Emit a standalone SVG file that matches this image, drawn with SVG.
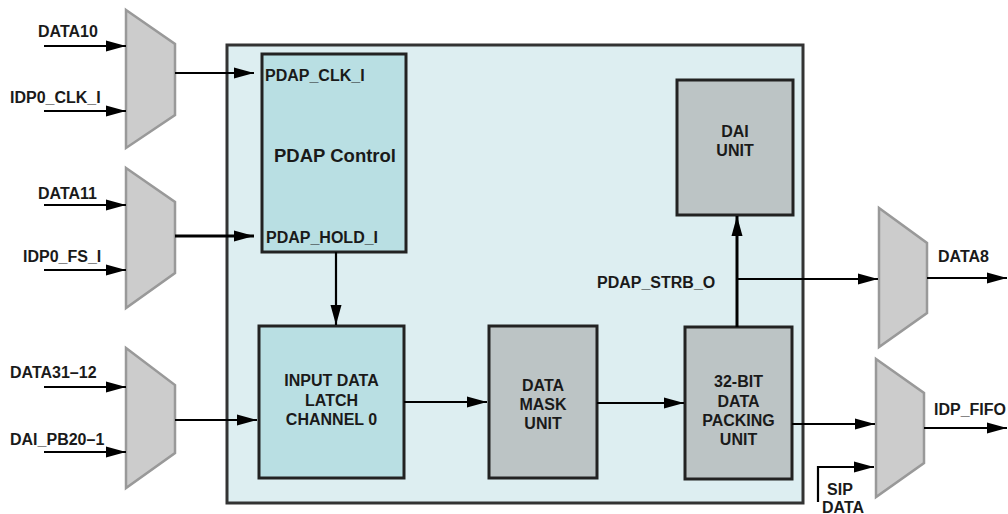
<svg xmlns="http://www.w3.org/2000/svg" width="1008" height="514" viewBox="0 0 1008 514">
<style>
text{font-family:"Liberation Sans",Arial,sans-serif;font-weight:bold;font-size:16px;fill:#1a1a1a}
.c{text-anchor:middle}
.mux{fill:#cccccc;stroke:#999999;stroke-width:2.5}
.blue{fill:#b9dfe3;stroke:#222;stroke-width:3}
.gray{fill:#bcc4c5;stroke:#222;stroke-width:3}
.wire{fill:none;stroke:#000;stroke-width:2.2}
.thick{stroke-width:3}
</style>
<defs>
<marker id="ah" markerUnits="userSpaceOnUse" markerWidth="21" markerHeight="12" refX="20" refY="6" orient="auto">
<path d="M0,0.5 L20,6 L0,11.5 z" fill="#000"/>
</marker>
</defs>
<rect width="1008" height="514" fill="#fff"/>
<g id="main-box"><rect x="227" y="45" width="576" height="458" fill="#ddeef1" stroke="#333" stroke-width="3"/></g>
<g id="mux1"><polygon class="mux" points="126,10 175,44 175,115 126,148"/></g>
<g id="mux2"><polygon class="mux" points="126,168 175,202 175,273 126,308"/></g>
<g id="mux3"><polygon class="mux" points="126,348 175,385 175,453 126,488"/></g>
<g id="mux4"><polygon class="mux" points="879,208 927,243 927,313 879,347"/></g>
<g id="mux5"><polygon class="mux" points="876,359 924,393 924,463 876,497"/></g>
<g id="pdap-control">
<rect class="blue" x="262" y="54" width="144" height="198"/>
<text x="265" y="81">PDAP_CLK_I</text>
<text class="c" x="335" y="162" style="font-size:18.5px">PDAP Control</text>
<text x="266" y="243">PDAP_HOLD_I</text>
</g>
<g id="input-latch">
<rect class="blue" x="259" y="326" width="145" height="152"/>
<text class="c" x="331.5" y="386">INPUT DATA</text>
<text class="c" x="331.5" y="406">LATCH</text>
<text class="c" x="331.5" y="425">CHANNEL 0</text>
</g>
<g id="data-mask">
<rect class="gray" x="489" y="326" width="108" height="152"/>
<text class="c" x="543" y="391">DATA</text>
<text class="c" x="543" y="410">MASK</text>
<text class="c" x="543" y="429">UNIT</text>
</g>
<g id="packing">
<rect class="gray" x="685" y="327" width="107" height="152"/>
<text class="c" x="738.5" y="387">32-BIT</text>
<text class="c" x="738.5" y="407">DATA</text>
<text class="c" x="738.5" y="426">PACKING</text>
<text class="c" x="738.5" y="445">UNIT</text>
</g>
<g id="dai-unit">
<rect class="gray" x="677" y="80" width="116" height="135"/>
<text class="c" x="735" y="137">DAI</text>
<text class="c" x="735" y="156">UNIT</text>
</g>
<g id="connectors">
<path class="wire" d="M44,46 H126" marker-end="url(#ah)"/>
<path class="wire" d="M44,111 H126" marker-end="url(#ah)"/>
<path class="wire" d="M44,205 H126" marker-end="url(#ah)"/>
<path class="wire" d="M44,270 H126" marker-end="url(#ah)"/>
<path class="wire" d="M44,387 H126" marker-end="url(#ah)"/>
<path class="wire" d="M44,452 H126" marker-end="url(#ah)"/>
<path class="wire" d="M175,73 H254" marker-end="url(#ah)"/>
<path class="wire thick" d="M175,236 H254" marker-end="url(#ah)"/>
<path class="wire" d="M175,420 H257" marker-end="url(#ah)"/>
<path class="wire" d="M336,252 V325" marker-end="url(#ah)"/>
<path class="wire" d="M404,402 H487" marker-end="url(#ah)"/>
<path class="wire" d="M597,403 H684" marker-end="url(#ah)"/>
<path class="wire thick" d="M737,327 V216" marker-end="url(#ah)"/>
<path class="wire" d="M737,279 H878" marker-end="url(#ah)"/>
<path class="wire" d="M792,424 H875" marker-end="url(#ah)"/>
<path class="wire" d="M818,502 V467 H874" marker-end="url(#ah)"/>
<path class="wire" d="M927,278 H1007" marker-end="url(#ah)"/>
<path class="wire" d="M924,428 H1007" marker-end="url(#ah)"/>
</g>
<g id="labels">
<text x="38" y="37">DATA10</text>
<text x="10" y="103">IDP0_CLK_I</text>
<text x="38" y="199">DATA11</text>
<text x="23" y="262">IDP0_FS_I</text>
<text x="10" y="378">DATA31–12</text>
<text x="10" y="445">DAI_PB20–1</text>
<text x="597" y="288">PDAP_STRB_O</text>
<text x="938" y="262">DATA8</text>
<text x="934" y="415">IDP_FIFO</text>
<text class="c" x="840" y="495">SIP</text>
<text class="c" x="843" y="513">DATA</text>
</g>
</svg>
